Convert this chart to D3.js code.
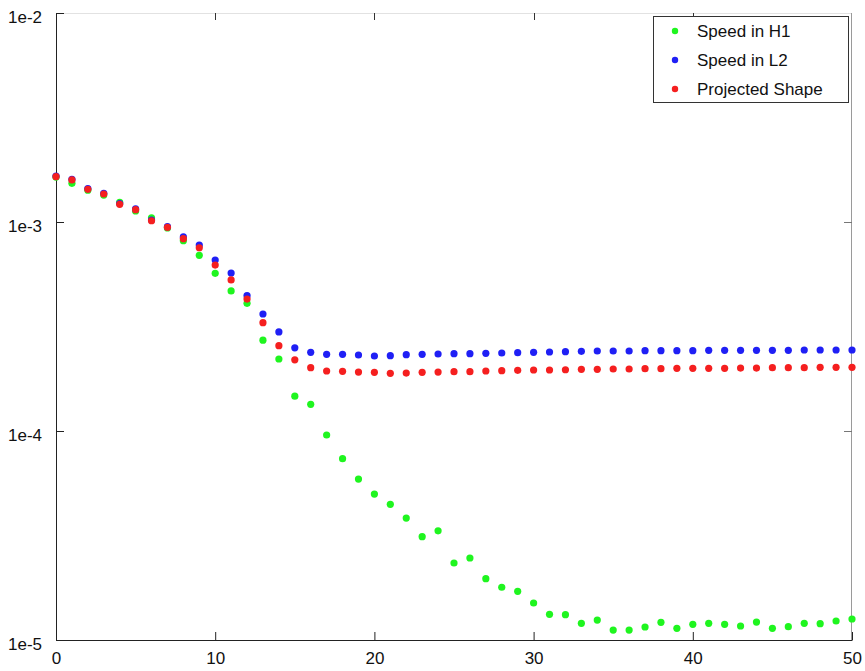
<!DOCTYPE html>
<html>
<head>
<meta charset="utf-8">
<script src="https://cdn.jsdelivr.net/npm/d3@7/dist/d3.min.js"></script>
<style>
html,body{margin:0;padding:0;background:#fff;}
svg text{font-family:"Liberation Sans",Arial,Helvetica,sans-serif;}
</style>
</head>
<body>
<svg id="chart" width="865" height="671"></svg>
<script>
const iterations = d3.range(0, 51);
const seriesNames = ["Speed in H1", "Speed in L2", "Projected Shape"];
const seriesColors = ["#1ff51f", "#1f1ff5", "#f51f1f"];

const speedH1 = [
  1.64e-3, 1.531e-3, 1.42e-3, 1.346e-3, 1.242e-3, 1.129e-3, 1.048e-3, 9.36e-4, 8.14e-4, 6.93e-4,
  5.68e-4, 4.68e-4, 4.08e-4, 2.72e-4, 2.21e-4, 1.467e-4, 1.342e-4, 9.57e-5, 7.37e-5, 5.89e-5,
  4.99e-5, 4.46e-5, 3.83e-5, 3.12e-5, 3.33e-5, 2.336e-5, 2.468e-5, 1.965e-5, 1.788e-5, 1.710e-5,
  1.503e-5, 1.327e-5, 1.322e-5, 1.202e-5, 1.246e-5, 1.116e-5, 1.116e-5, 1.154e-5, 1.215e-5, 1.137e-5,
  1.189e-5, 1.202e-5, 1.189e-5, 1.167e-5, 1.219e-5, 1.137e-5, 1.158e-5, 1.202e-5, 1.197e-5, 1.233e-5,
  1.260e-5
];
const speedL2 = [
  1.66e-3, 1.60e-3, 1.445e-3, 1.372e-3, 1.225e-3, 1.155e-3, 1.022e-3, 9.50e-4, 8.48e-4, 7.76e-4,
  6.58e-4, 5.70e-4, 4.44e-4, 3.63e-4, 2.98e-4, 2.50e-4, 2.38e-4, 2.328e-4, 2.328e-4, 2.310e-4,
  2.285e-4, 2.293e-4, 2.318e-4, 2.328e-4, 2.336e-4, 2.344e-4, 2.344e-4, 2.354e-4, 2.362e-4, 2.369e-4,
  2.380e-4, 2.388e-4, 2.396e-4, 2.406e-4, 2.414e-4, 2.414e-4, 2.414e-4, 2.423e-4, 2.423e-4, 2.423e-4,
  2.423e-4, 2.432e-4, 2.432e-4, 2.432e-4, 2.432e-4, 2.432e-4, 2.432e-4, 2.441e-4, 2.441e-4, 2.441e-4,
  2.441e-4
];
const projectedShape = [
  1.647e-3, 1.589e-3, 1.433e-3, 1.361e-3, 1.215e-3, 1.145e-3, 1.014e-3, 9.43e-4, 8.32e-4, 7.53e-4,
  6.22e-4, 5.28e-4, 4.28e-4, 3.30e-4, 2.56e-4, 2.19e-4, 2.01e-4, 1.937e-4, 1.93e-4, 1.915e-4,
  1.909e-4, 1.888e-4, 1.894e-4, 1.909e-4, 1.915e-4, 1.922e-4, 1.922e-4, 1.937e-4, 1.943e-4, 1.951e-4,
  1.958e-4, 1.958e-4, 1.964e-4, 1.973e-4, 1.973e-4, 1.980e-4, 1.980e-4, 1.987e-4, 1.987e-4, 1.995e-4,
  1.995e-4, 1.995e-4, 1.995e-4, 2.001e-4, 2.001e-4, 2.009e-4, 2.009e-4, 2.009e-4, 2.016e-4, 2.016e-4,
  2.016e-4
];
const xTicks = [0, 10, 20, 30, 40, 50];
const yTicks = [1e-5, 1e-4, 1e-3, 1e-2];
const yTickLabels = ["1e-5", "1e-4", "1e-3", "1e-2"];

const W = 865, H = 671;
const margin = {left: 56, right: 13, top: 13, bottom: 31};
const svg = d3.select("#chart");

const x = d3.scaleLinear().domain([0, 50]).range([margin.left, W - margin.right]);
const y = d3.scaleLog().domain([1e-5, 1e-2]).range([H - margin.bottom, margin.top]);

const x0 = x.range()[0], x1 = x.range()[1];
const y0 = y.range()[0], y1 = y.range()[1];

// top border (light) and right border (gray)
svg.append("line").attr("x1", x0).attr("x2", x1).attr("y1", y1 + 0.5).attr("y2", y1 + 0.5)
  .attr("stroke", "#e2e2e2").attr("stroke-width", 1);
svg.append("line").attr("x1", x1 - 0.5).attr("x2", x1 - 0.5).attr("y1", y1).attr("y2", y0)
  .attr("stroke", "#9a9a9a").attr("stroke-width", 1);

// top ticks
svg.append("g").selectAll("line").data(xTicks.slice(1, -1)).join("line")
  .attr("x1", d => Math.round(x(d)) + 0.5).attr("x2", d => Math.round(x(d)) + 0.5)
  .attr("y1", y1).attr("y2", y1 + 7).attr("stroke", "#333");
// right ticks
svg.append("g").selectAll("line").data(yTicks.slice(1, -1)).join("line")
  .attr("x1", x1 - 8).attr("x2", x1).attr("y1", d => Math.round(y(d)) + 0.5).attr("y2", d => Math.round(y(d)) + 0.5)
  .attr("stroke", "#777");

// bottom axis
const xAxis = d3.axisBottom(x).tickValues(xTicks).tickSizeInner(-8).tickSizeOuter(0).tickPadding(12).tickFormat(d3.format("d"));
const gx = svg.append("g").attr("transform", `translate(0,${y0})`).call(xAxis);
gx.select(".domain").attr("stroke", "#222");
gx.selectAll(".tick line").attr("stroke", "#222");
gx.selectAll("text").attr("font-size", 17).attr("fill", "#111").attr("font-family", '"Liberation Sans",Arial,sans-serif');

// left axis
const yAxis = d3.axisLeft(y).tickValues(yTicks).tickSizeInner(-8).tickSizeOuter(0).tickPadding(14)
  .tickFormat((d, i) => yTickLabels[i]);
const gy = svg.append("g").attr("transform", `translate(${x0},0)`).call(yAxis);
gy.select(".domain").attr("stroke", "#222");
gy.selectAll(".tick line").attr("stroke", "#222");
gy.selectAll("text").attr("font-size", 17).attr("fill", "#111").attr("dy", "0.55em")
  .attr("font-family", '"Liberation Sans",Arial,sans-serif');

// data points
const allSeries = [speedH1, speedL2, projectedShape];
allSeries.forEach((vals, si) => {
  svg.append("g").selectAll("circle").data(iterations).join("circle")
    .attr("cx", d => x(d)).attr("cy", d => y(vals[d])).attr("r", 3.6)
    .attr("fill", seriesColors[si]);
});

// legend
const lg = svg.append("g");
lg.append("rect").attr("x", 653.5).attr("y", 16.5).attr("width", 195).attr("height", 86)
  .attr("fill", "#fff").attr("stroke", "#333").attr("stroke-width", 1);
seriesNames.forEach((name, i) => {
  const cy = 31 + i * 29;
  lg.append("circle").attr("cx", 675).attr("cy", cy).attr("r", 3.2).attr("fill", seriesColors[i]);
  lg.append("text").attr("x", 697).attr("y", cy).attr("dy", "0.36em").attr("font-size", 17)
    .attr("fill", "#111").text(name);
});
</script>
</body>
</html>
